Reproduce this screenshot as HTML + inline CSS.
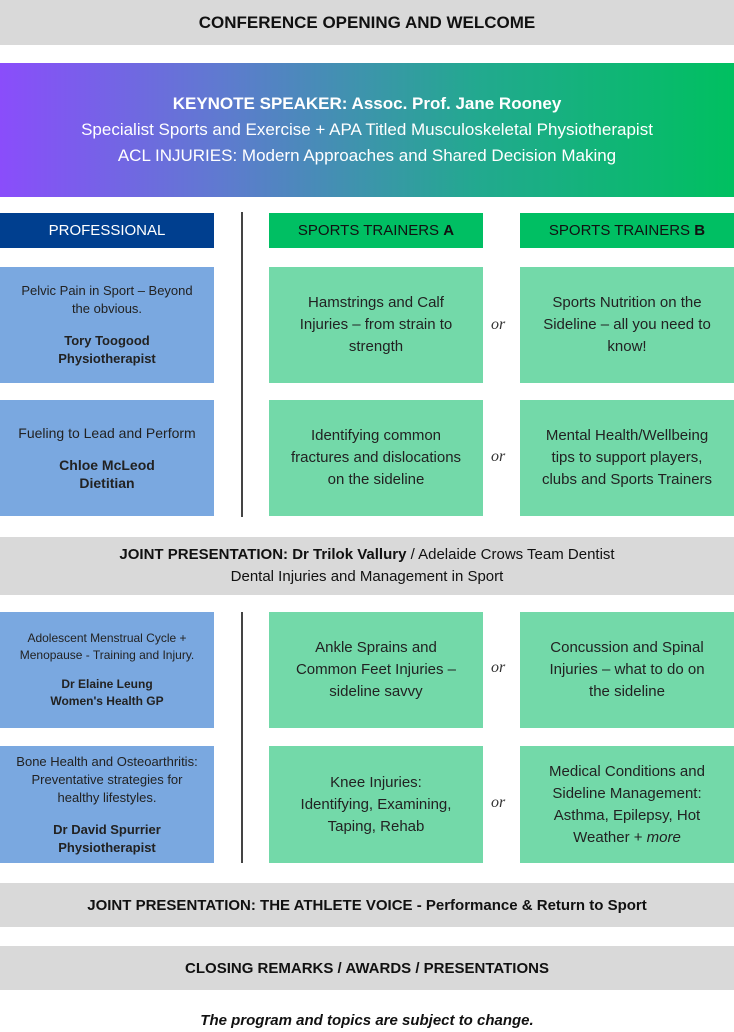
<!DOCTYPE html>
<html><head><meta charset="utf-8"><style>
*{margin:0;padding:0;box-sizing:border-box}
body{width:734px;height:1032px;background:#fff;font-family:"Liberation Sans",sans-serif;color:#111;position:relative;overflow:hidden}
.a{position:absolute;display:flex;align-items:center;justify-content:center;text-align:center;flex-direction:column}
.grey{background:#d9d9d9;left:0;width:734px;font-weight:bold;font-size:15px}
.hdr{height:35px;top:213px;font-size:15px}
.blue{background:#7aa8e0;left:0;width:214px;font-size:13px;line-height:18px;color:#222}
.g{background:#73d9a9;width:214px;font-size:15px;line-height:22px;color:#222}
.or{position:absolute;font-family:"Liberation Serif",serif;font-style:italic;font-size:16px;left:491px;color:#333}
.vl{position:absolute;left:241px;width:1.5px;background:#444}
</style></head><body>
<div class="a grey" style="top:0;height:45px;font-size:17px">CONFERENCE OPENING AND WELCOME</div>
<div class="a" style="top:63px;left:0;width:734px;height:134px;background:linear-gradient(90deg,#8a4dfb 0%,#5f7ad0 30%,#22a98f 65%,#00c060 100%);color:#fff;font-size:17px;line-height:26px">
<div style="font-weight:bold">KEYNOTE SPEAKER: Assoc. Prof. Jane Rooney</div>
<div>Specialist Sports and Exercise + APA Titled Musculoskeletal Physiotherapist</div>
<div>ACL INJURIES: Modern Approaches and Shared Decision Making</div></div>

<div class="a hdr" style="left:0;width:214px;background:#003f8f;color:#fff">PROFESSIONAL</div>
<div class="a hdr" style="left:269px;width:214px;background:#00bf63"><div>SPORTS TRAINERS <b>A</b></div></div>
<div class="a hdr" style="left:520px;width:214px;background:#00bf63"><div>SPORTS TRAINERS <b>B</b></div></div>
<div class="vl" style="top:212px;height:305px"></div>

<div class="a blue" style="top:267px;height:116px"><div>Pelvic Pain in Sport – Beyond<br>the obvious.</div><div style="margin-top:14px;font-weight:bold">Tory Toogood<br>Physiotherapist</div></div>
<div class="a g" style="top:267px;height:116px;left:269px"><div>Hamstrings and Calf<br>Injuries – from strain to<br>strength</div></div>
<div class="or" style="top:316px">or</div>
<div class="a g" style="top:267px;height:116px;left:520px"><div>Sports Nutrition on the<br>Sideline – all you need to<br>know!</div></div>

<div class="a blue" style="top:400px;height:116px;font-size:14px"><div>Fueling to Lead and Perform</div><div style="margin-top:14px;font-weight:bold">Chloe McLeod<br>Dietitian</div></div>
<div class="a g" style="top:400px;height:116px;left:269px"><div>Identifying common<br>fractures and dislocations<br>on the sideline</div></div>
<div class="or" style="top:448px">or</div>
<div class="a g" style="top:400px;height:116px;left:520px"><div>Mental Health/Wellbeing<br>tips to support players,<br>clubs and Sports Trainers</div></div>

<div class="a grey" style="top:537px;height:58px;font-weight:normal;font-size:15px;line-height:22px"><div><b>JOINT PRESENTATION: Dr Trilok Vallury</b> / Adelaide Crows Team Dentist</div><div>Dental Injuries and Management in Sport</div></div>

<div class="vl" style="top:612px;height:251px"></div>
<div class="a blue" style="top:612px;height:116px;font-size:12px;line-height:17px"><div>Adolescent Menstrual Cycle +<br>Menopause - Training and Injury.</div><div style="margin-top:12px;font-weight:bold">Dr Elaine Leung<br>Women's Health GP</div></div>
<div class="a g" style="top:612px;height:116px;left:269px"><div>Ankle Sprains and<br>Common Feet Injuries –<br>sideline savvy</div></div>
<div class="or" style="top:659px">or</div>
<div class="a g" style="top:612px;height:116px;left:520px"><div>Concussion and Spinal<br>Injuries – what to do on<br>the sideline</div></div>

<div class="a blue" style="top:746px;height:117px"><div>Bone Health and Osteoarthritis:<br>Preventative strategies for<br>healthy lifestyles.</div><div style="margin-top:14px;font-weight:bold">Dr David Spurrier<br>Physiotherapist</div></div>
<div class="a g" style="top:746px;height:117px;left:269px"><div>Knee Injuries:<br>Identifying, Examining,<br>Taping, Rehab</div></div>
<div class="or" style="top:794px">or</div>
<div class="a g" style="top:746px;height:117px;left:520px"><div>Medical Conditions and<br>Sideline Management:<br>Asthma, Epilepsy, Hot<br>Weather + <i>more</i></div></div>

<div class="a grey" style="top:883px;height:44px">JOINT PRESENTATION: THE ATHLETE VOICE - Performance &amp; Return to Sport</div>
<div class="a grey" style="top:946px;height:44px">CLOSING REMARKS / AWARDS / PRESENTATIONS</div>
<div class="a" style="top:1008px;left:0;width:734px;height:24px;font-weight:bold;font-style:italic;font-size:15px">The program and topics are subject to change.</div>
</body></html>
